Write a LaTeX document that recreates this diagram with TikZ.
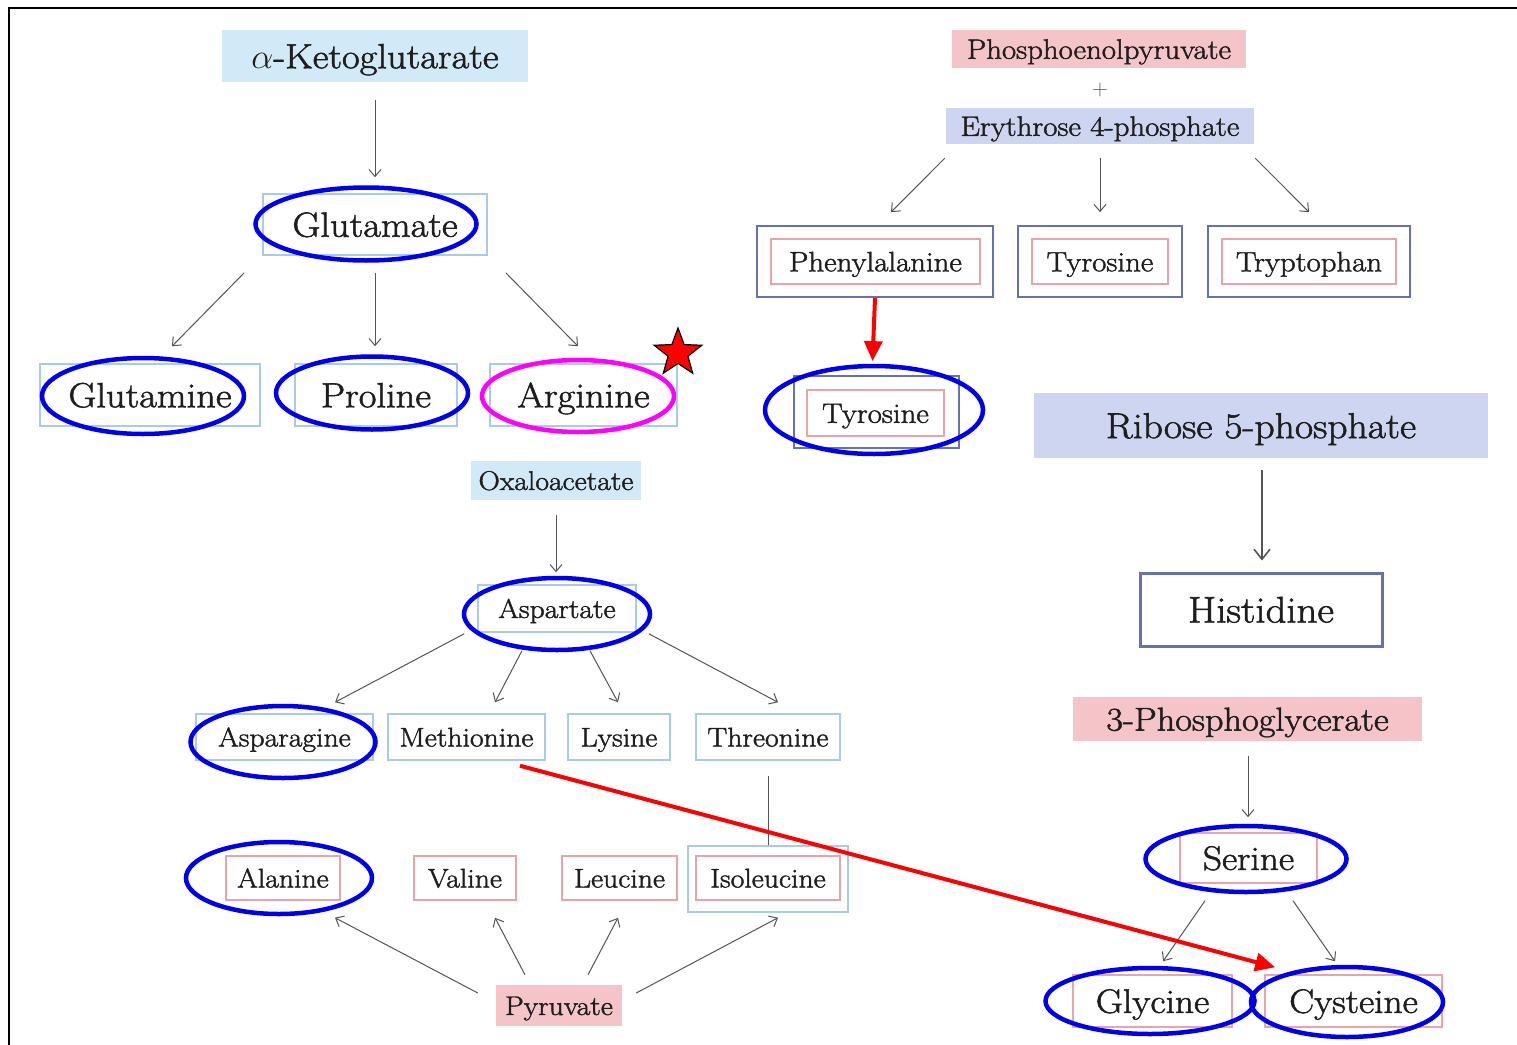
\RequirePackage{fix-cm}
\documentclass[tikz,border=0pt]{standalone}
\usepackage{fontspec}
\newfontfamily\dkfont{Latin Modern Roman}[FakeBold=1.6,FakeStretch=1.1]
\usetikzlibrary{shapes.geometric,arrows.meta,calc}
\definecolor{kblue}{HTML}{D2EAF8}
\definecolor{bline}{HTML}{A9CBEB}
\definecolor{pfill}{HTML}{F5C4C8}
\definecolor{pline}{HTML}{E9A3AA}
\definecolor{lav}{HTML}{CDD5F0}
\definecolor{navy}{HTML}{6670B3}
\definecolor{arrgray}{HTML}{555555}
\definecolor{ringblue}{RGB}{0,0,240}
\definecolor{ringmag}{RGB}{255,0,255}
\definecolor{txt}{HTML}{1E1E1E}
\tikzset{
  box/.style={rectangle, inner sep=0pt, align=center, text=txt},
  fillb/.style={box, fill=kblue},
  fillp/.style={box, fill=pfill},
  filll/.style={box, fill=lav},
  lb/.style={box, draw=bline, line width=1.5pt},
  pb/.style={box, draw=pline, line width=1.5pt},
  nb/.style={box, draw=navy, line width=1.8pt},
  ring/.style={ellipse, draw=ringblue, line width=4.5pt, inner sep=0pt},
  arr/.style={draw=arrgray, line width=1pt, -{Straight Barb[length=7pt,width=12pt]}},
  redarr/.style={draw=red, line width=4pt, -{Triangle[length=20pt,width=18pt]}},
  fsz/.style={font=\dkfont\fontsize{#1}{#1}\selectfont, text height=0.7*#1, text depth=0pt},
  fa/.style={fsz=35},
  fb/.style={fsz=27},
  fc/.style={fsz=28},
  fd/.style={fsz=34},
  fe/.style={fsz=36},
  ff/.style={fsz=37},
  fg/.style={fsz=33},
}
\begin{document}
\begin{tikzpicture}[x=1pt,y=-1pt]
\useasboundingbox (0,0) rectangle (1517,1044);
\fill[white] (0,0) rectangle (1517,1044);
\draw[line width=2pt] (9,1060) -- (9,8) -- (1530,8);

% ---- alpha-ketoglutarate family
\node[fillb,fa,minimum width=306,minimum height=52] (akg) at (375,56) {$\alpha$-Ketoglutarate};
\node[lb,fa,minimum width=224,minimum height=61] (glu) at (375,224.5) {Glutamate};
\node[lb,fa,minimum width=220,minimum height=62] (gln) at (150,395) {Glutamine};
\node[lb,fa,minimum width=162,minimum height=62] (pro) at (376,395) {Proline};
\node[lb,fa,minimum width=187,minimum height=62] (arg) at (583.5,395) {Arginine};

% ---- oxaloacetate family
\node[fillb,fb,minimum width=170,minimum height=39] (oaa) at (556,480.5) {Oxaloacetate};
\node[lb,fb,minimum width=158,minimum height=47] (asp) at (557,608.5) {Aspartate};
\node[lb,fb,minimum width=177,minimum height=46] (asn) at (284.5,737) {Asparagine};
\node[lb,fb,minimum width=157,minimum height=46] (met) at (466.5,737) {Methionine};
\node[lb,fb,minimum width=102,minimum height=46] (lys) at (619,737) {Lysine};
\node[lb,fb,minimum width=144,minimum height=46] (thr) at (768,737) {Threonine};

% ---- pyruvate family
\node[pb,fb,minimum width=114,minimum height=44] (ala) at (283,878) {Alanine};
\node[pb,fb,minimum width=102,minimum height=44] (val) at (465,878) {Valine};
\node[pb,fb,minimum width=115,minimum height=44] (leu) at (619.5,878) {Leucine};
\node[lb,minimum width=160,minimum height=66] (ileo) at (768,879) {};
\node[pb,fb,minimum width=144,minimum height=44] (ile) at (768,878) {Isoleucine};
\node[fillp,fb,minimum width=126,minimum height=41] (pyr) at (559,1005.5) {Pyruvate};

% ---- PEP + E4P family
\node[fillp,fc,minimum width=294,minimum height=38] (pep) at (1099,49) {Phosphoenolpyruvate};
\node[box,font=\fontsize{22}{26}\selectfont,text=arrgray] (plus) at (1100,90) {+};
\node[filll,fc,minimum width=308,minimum height=36] (e4p) at (1100,126) {Erythrose 4-phosphate};
\node[nb,minimum width=236,minimum height=71] (pheo) at (875,261.5) {};
\node[pb,fc,minimum width=209,minimum height=45] (phe) at (875.5,261.5) {Phenylalanine};
\node[nb,minimum width=164,minimum height=71] (tyro) at (1100,261.5) {};
\node[pb,fc,minimum width=136,minimum height=45] (tyr) at (1100,261.5) {Tyrosine};
\node[nb,minimum width=202,minimum height=71] (trpo) at (1309,261.5) {};
\node[pb,fc,minimum width=174,minimum height=45] (trp) at (1309,261.5) {Tryptophan};
\node[nb,minimum width=165,minimum height=72] (tyrbo) at (876.5,412) {};
\node[pb,fc,minimum width=137,minimum height=46] (tyrb) at (875.5,413) {Tyrosine};

% ---- ribose 5-phosphate family
\node[filll,fe,minimum width=454,minimum height=65] (rib) at (1261,425.5) {Ribose 5-phosphate};
\node[box,draw=navy,line width=3pt,ff,minimum width=242,minimum height=73] (his) at (1261,609.5) {Histidine};

% ---- 3-phosphoglycerate family
\node[fillp,fg,minimum width=349,minimum height=44] (pg3) at (1247.5,719) {3-Phosphoglycerate};
\node[pb,fd,minimum width=137,minimum height=50] (ser) at (1248.5,858) {Serine};
\node[pb,fd,minimum width=159,minimum height=52] (gly) at (1152.5,1001) {Glycine};
\node[pb,fd,minimum width=177,minimum height=52] (cys) at (1353.5,1001) {Cysteine};

% ---- gray arrows
\draw[arr] ($(akg.south)+(0,18)$) -- ($(glu.north)+(0,-16)$);
\draw[arr] ($(glu.south west)+(-18,17)$) -- ($(gln.north)+(22,-17)$);
\draw[arr] ($(glu.south)+(0,17)$) -- ($(pro.north)+(-1,-17)$);
\draw[arr] ($(glu.south east)+(18,17)$) -- ($(arg.north)+(-5.5,-17)$);
\draw[arr] ($(oaa.south)+(0,15)$) -- ($(asp.north)+(-1,-12)$);
\draw[arr] ($(asp.south west)+(-13,1)$) -- ($(asn.north)+(50.5,-11)$);
\draw[arr] ($(asp.south)+(-35,18)$) -- ($(met.north)+(28.5,-11)$);
\draw[arr] ($(asp.south)+(33,18)$) -- ($(lys.north)+(-1,-11)$);
\draw[arr] ($(asp.south east)+(12,1)$) -- ($(thr.north)+(10,-11)$);
\draw[draw=arrgray,line width=1pt] ($(thr.south)+(0,15)$) -- (ileo.north);
\draw[arr] ($(pyr.west)+(-18,-12.5)$) -- ($(ala.south)+(52,17)$);
\draw[arr] ($(pyr.north)+(-34,-10)$) -- ($(val.south)+(30,17)$);
\draw[arr] ($(pyr.north)+(29,-10)$) -- ($(leu.south)+(-1.5,17)$);
\draw[arr] ($(pyr.east)+(14,-12.5)$) -- ($(ileo.south)+(10,5)$);
\draw[arr] ($(e4p.south west)+(-1,14)$) -- ($(pheo.north)+(16,-13)$);
\draw[arr] ($(e4p.south)+(0,14)$) -- ($(tyro.north)+(0,-13)$);
\draw[arr] ($(e4p.south east)+(1,14)$) -- ($(trpo.north)+(0,-13)$);
\draw[draw=arrgray,line width=1.6pt,-{Straight Barb[length=10pt,width=16pt]}] ($(rib.south)+(1,12)$) -- ($(his.north)+(1,-11)$);
\draw[arr] ($(pg3.south)+(0.5,15)$) -- ($(ser.north)+(-0.5,-15)$);
\draw[arr] ($(ser.south)+(-43.5,17)$) -- ($(gly.north)+(10.5,-13)$);
\draw[arr] ($(ser.south)+(44.5,17)$) -- ($(cys.north)+(-18.5,-13)$);

% ---- highlight ellipses
\node[ring,minimum width=221,minimum height=73] (glu-e) at (366,224) {};
\node[ring,minimum width=202,minimum height=76] (gln-e) at (143,396) {};
\node[ring,minimum width=192,minimum height=73] (pro-e) at (372,393) {};
\node[ring,draw=ringmag,minimum width=192,minimum height=72] (arg-e) at (578,396) {};
\node[ring,minimum width=186,minimum height=72] (asp-e) at (557,614) {};
\node[ring,minimum width=185,minimum height=72] (asn-e) at (283,742) {};
\node[ring,minimum width=186,minimum height=72] (ala-e) at (279,878) {};
\node[ring,minimum width=218,minimum height=88] (tyrb-e) at (874,410) {};
\node[ring,minimum width=201,minimum height=66] (ser-e) at (1246,859) {};
\node[ring,minimum width=209,minimum height=66] (gly-e) at (1150,1001) {};
\node[ring,minimum width=192,minimum height=70] (cys-e) at (1347,1002) {};

\node[star,star points=5,star point ratio=2.4,minimum size=50pt,inner sep=0pt,fill=red,draw=black,line width=1.2pt] (star) at (678,353) {};

% ---- red arrows
\draw[redarr] (pheo.south) -- ($(tyrbo.north)+(-4,-14)$);
\draw[redarr] ($(met.south)+(53.5,5)$) -- ($(cys.north west)+(11,-7)$);
\end{tikzpicture}
\end{document}
